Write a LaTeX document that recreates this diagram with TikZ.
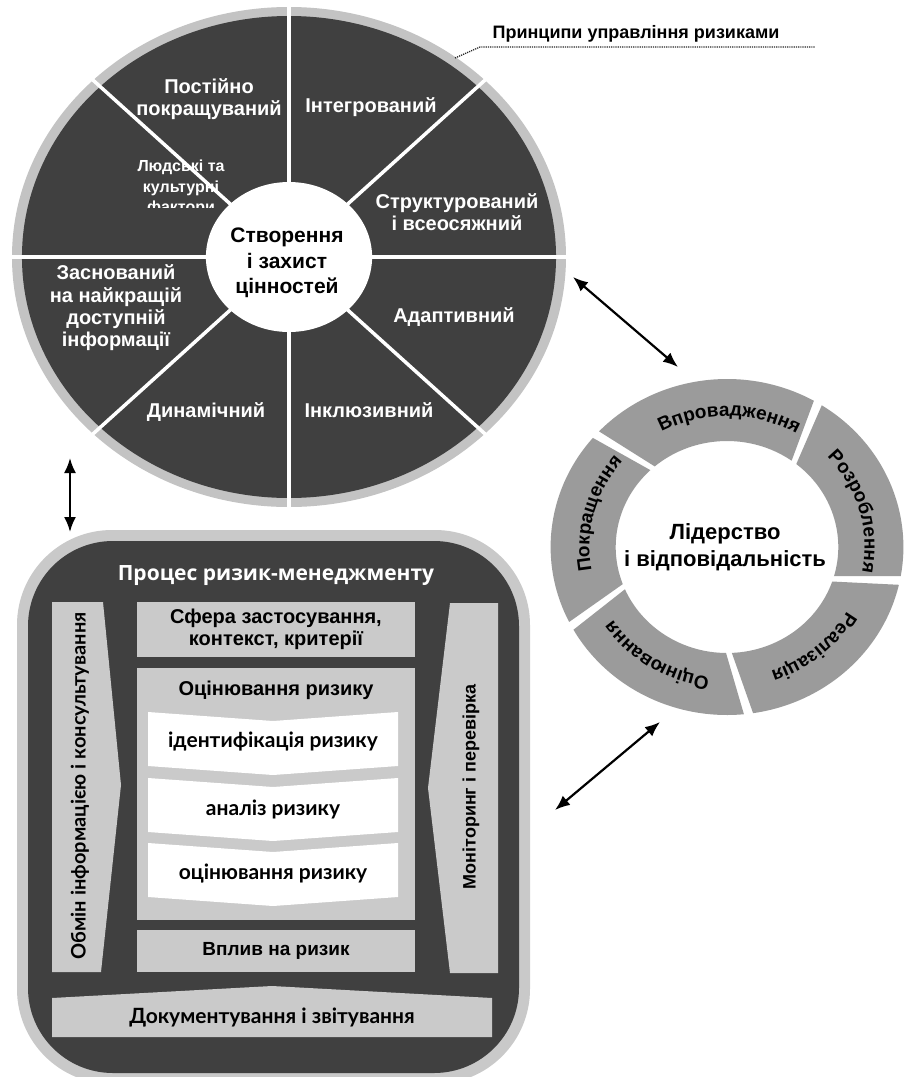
\documentclass[tikz,border=0pt]{standalone}
\usepackage{fontspec}
\setmainfont{Liberation Sans}
\newfontfamily\latofont{Lato}
\newfontfamily\opensansfont{Open Sans}
\usetikzlibrary{arrows.meta,decorations.text}
\definecolor{darkfill}{HTML}{404040}
\definecolor{rimgray}{HTML}{C3C3C3}
\definecolor{lgray}{HTML}{CACACA}
\definecolor{ringgray}{HTML}{9B9B9B}
\newcommand\cycfont{\fontsize{19}{21}\selectfont\bfseries}
\begin{document}
\begin{tikzpicture}[x=1pt,y=1pt,
  seclab/.style={text=white,font=\fontsize{20}{22.3}\selectfont\bfseries,align=center,inner sep=0pt},
  smalllab/.style={text=white,font=\fontsize{16}{20.5}\selectfont\bfseries,align=center,inner sep=0pt},
  centlab/.style={text=black,font=\fontsize{21}{25.5}\selectfont\bfseries,align=center,inner sep=0pt},
  boxlab/.style={text=black,font=\fontsize{20}{22}\selectfont\bfseries,align=center,inner sep=0pt},
  latolab/.style={text=black,font=\latofont\fontsize{21}{24}\selectfont\bfseries,align=center,inner sep=0pt},
  graybox/.style={fill=lgray,inner sep=0pt},
  conn/.style={{Latex[length=15pt,width=12pt]}-{Latex[length=15pt,width=12pt]},line width=2.2pt,black}]
\useasboundingbox (0,0) rectangle (908,-1077);
\fill[white] (0,0) rectangle (908,-1077);

% ---------- principles wheel ----------
\begin{scope}[shift={(289,-257)},xscale=1.108]
  \fill[rimgray] (0,0) circle[radius=250];
  \fill[darkfill] (0,0) circle[radius=241];
  \foreach \a in {0,45,...,315} \draw[white,line width=3.5pt] (0,0) -- (\a:252);
  \fill[white] (0,0) circle[radius=75];
\end{scope}
\node[seclab] (p1) at (209,-99) {Постійно\\покращуваний};
\node[seclab] (p2) at (371,-107) {Інтегрований};
\node[seclab] (p3) at (457,-212) {Структурований\\і всеосяжний};
\node[seclab] (p4) at (454,-317) {Адаптивний};
\node[seclab] (p5) at (369,-410) {Інклюзивний};
\node[seclab] (p6) at (206,-412) {Динамічний};
\node[seclab] (p7) at (116,-308) {Заснований\\на найкращій\\доступній\\інформації};
\begin{scope}
  \clip (100,-140) rectangle (262,-207.5);
  \node[smalllab] (p8) at (181,-188) {Людські та\\культурні\\фактори};
\end{scope}
\node[centlab] (value) at (287,-263) {Створення\\і захист\\цінностей};

\node[font=\fontsize{18}{20}\selectfont\bfseries,anchor=base,inner sep=0pt] (princ) at (636,-38) {Принципи управління ризиками};
\coordinate (pl0) at (455,-58);
\coordinate (pl1) at (480,-47);
\coordinate (pl2) at (815,-47);
\draw[line width=1.3pt,dash pattern=on 1.2pt off 1pt,black!85] (pl0) -- (pl1) -- (pl2);

% ---------- leadership cycle ----------
\begin{scope}[shift={(727,-547)}]
  \foreach \T/\H in {133.5/57.5, 54.5/-13, -16/-84.5, -87.5/-153.5, -156.5/-223.5} {
    \fill[ringgray] (\T+3:176.4 and 168)
      arc[start angle=\T+3,end angle=\H+3,x radius=176.4,y radius=168]
      -- (\H-3:111.3 and 106)
      arc[start angle=\H-3,end angle=\T-3,x radius=111.3,y radius=106]
      -- cycle;
  }
  \path[decorate,decoration={text along path,text align=center,text={|\cycfont|Впровадження}}]
    (129:137.55 and 131) arc[start angle=129,end angle=49,x radius=137.55,y radius=131];
  \path[decorate,decoration={text along path,text align=center,text={|\cycfont|Розроблення}}]
    (56:137.55 and 131) arc[start angle=56,end angle=-24,x radius=137.55,y radius=131];
  \path[decorate,decoration={text along path,text align=center,text={|\cycfont|Реалізація}}]
    (-10:137.55 and 131) arc[start angle=-10,end angle=-90,x radius=137.55,y radius=131];
  \path[decorate,decoration={text along path,text align=center,text={|\cycfont|Оцінювання}}]
    (-82:137.55 and 131) arc[start angle=-82,end angle=-162,x radius=137.55,y radius=131];
  \path[decorate,decoration={text along path,text align=center,text={|\cycfont|Покращення}}]
    (-155:137.55 and 131) arc[start angle=-155,end angle=-235,x radius=137.55,y radius=131];
\end{scope}
\node[font=\fontsize{22}{27}\selectfont\bfseries,align=center,inner sep=0pt] (lead) at (725,-547) {Лідерство\\і відповідальність};

% ---------- risk management process ----------
\fill[rimgray!90!white,rounded corners=95pt] (17,-530) rectangle (530,-1084);
\fill[darkfill,rounded corners=85pt] (28,-541) rectangle (519,-1073);
\node[text=white,font=\opensansfont\fontsize{21}{24}\selectfont\bfseries,inner sep=0pt] (title) at (276,-576) {Процес ризик-менеджменту};

\fill[lgray] (52,-602) -- (103,-602) -- (121,-785) -- (101,-972) -- (52,-972) -- cycle;
\node[latolab,font=\latofont\fontsize{20}{24}\selectfont\bfseries,rotate=90] (comm) at (80,-786) {Обмін інформацією і консультування};
\fill[lgray] (450,-603) -- (498,-603) -- (498,-973) -- (450,-973) -- (428,-788) -- cycle;
\node[font=\fontsize{18}{22}\selectfont\bfseries,inner sep=0pt,rotate=90] (monit) at (471,-787) {Моніторинг і перевірка};

\node[graybox,minimum width=278pt,minimum height=55pt] (scope) at (276,-629.5) {};
\node[boxlab] at (scope) {Сфера застосування,\\контекст, критерії};
\node[graybox,minimum width=278pt,minimum height=252pt] (assess) at (276,-794) {};
\node[boxlab] (assesst) at (276,-690) {Оцінювання ризику};
\foreach \t in {712,778,843} {
  \fill[white] (148,-\t) -- (273,-\t-9) -- (398,-\t) -- (398,-\t-54) -- (273,-\t-63) -- (148,-\t-54) -- cycle;
}
\node[latolab] (ident) at (273,-742) {ідентифікація ризику};
\node[latolab] (anal) at (273,-809) {аналіз ризику};
\node[latolab] (evalr) at (273,-874) {оцінювання ризику};
\node[graybox,minimum width=278pt,minimum height=42pt] (treat) at (276,-951) {};
\node[boxlab,font=\fontsize{19}{22}\selectfont\bfseries] at (treat) {Вплив на ризик};
\fill[lgray] (52,-998) -- (272,-986) -- (492,-998) -- (492,-1037) -- (52,-1037) -- cycle;
\node[latolab] (docum) at (272,-1018) {Документування і звітування};

% ---------- connectors ----------
\coordinate (a1s) at (573,-277);
\coordinate (a1e) at (678,-367);
\coordinate (a2s) at (660,-722);
\coordinate (a2e) at (555,-810);
\coordinate (a3s) at (70,-458);
\coordinate (a3e) at (70,-532);
\draw[conn] (a1s) -- (a1e);
\draw[conn] (a2s) -- (a2e);
\draw[conn] (a3s) -- (a3e);
\end{tikzpicture}
\end{document}
